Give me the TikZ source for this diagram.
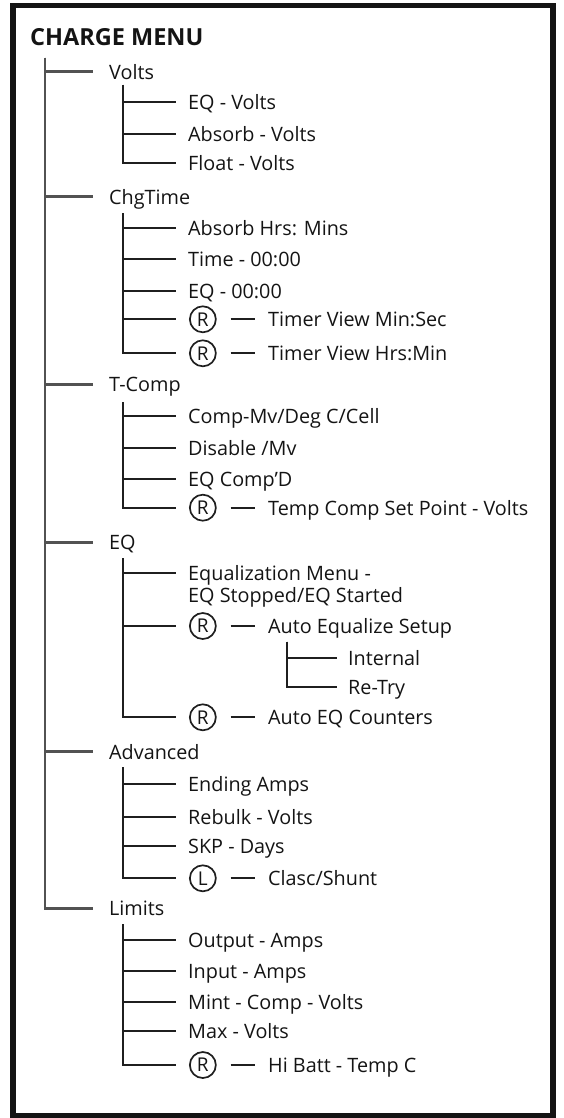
\documentclass[tikz,border=0pt]{standalone}
\usepackage{fontspec}
\setmainfont{Open Sans}
\begin{document}
\begin{tikzpicture}[x=1pt,y=-1pt,
  frame/.style={line width=5.5pt, draw=black!92},
  lvA/.style={line width=2.6pt, draw=black!68},
  lvB/.style={line width=2pt, draw=black!88},
  txt/.style={anchor=west, inner sep=0pt, text height=15pt, text depth=0pt,
              font=\fontsize{19.8}{21}\selectfont, text=black!92},
  ttl/.style={anchor=base west, inner sep=0pt,
              font=\bfseries\fontsize{23.5}{26}\selectfont, text=black!92},
  rc/.style={circle, draw=black!88, line width=1.7pt, minimum size=26pt,
             inner sep=0pt, font=\fontsize{19}{19}\selectfont, text=black!92, anchor=west},
  gA/.style={lvA, shorten >=16pt},
  gB/.style={lvB, shorten >=12pt},
  gR/.style={lvB, shorten >=13pt},
  dsh/.style={lvB, shorten <=14pt, shorten >=13pt}
]
\useasboundingbox (0,0) rectangle (563,1118);
\draw[frame] (13,5.5) rectangle (553,1115.5);

\node[ttl] (title) at (30,45.7) {CHARGE MENU};

% level 1
\coordinate (vA) at (45,58);
\node[txt] (volts) at (109,71.7) {Volts};
\node[txt] (chg) at (109,196.7) {ChgTime};
\node[txt] (tcomp) at (109,384.3) {T-Comp};
\node[txt] (eq) at (109,542.3) {EQ};
\node[txt] (adv) at (109,751.7) {Advanced};
\node[txt] (lim) at (109,908.3) {Limits};
\foreach \n in {volts,chg,tcomp,eq,adv,lim}
  \draw[gA] (vA) |- (\n.west);

% Volts
\coordinate (vV) at (123,85);
\node[txt] (v1) at (188,101.7) {EQ - Volts};
\node[txt] (v2) at (188,134) {Absorb - Volts};
\node[txt] (v3) at (188,163.3) {Float - Volts};
\foreach \n in {v1,v2,v3} \draw[gB] (vV) |- (\n.west);

% ChgTime
\coordinate (vC) at (123,213);
\node[txt] (c1) at (188,228.3) {Absorb Hrs: Mins};
\node[txt] (c2) at (188,259.3) {Time - 00:00};
\node[txt] (c3) at (188,290.7) {EQ - 00:00};
\node[rc] (c4r) at (189,319.3) {R};
\node[txt] (c4) at (268,319.3) {Timer View Min:Sec};
\node[rc] (c5r) at (189,353.3) {R};
\node[txt] (c5) at (268,353.3) {Timer View Hrs:Min};
\foreach \n in {c1,c2,c3} \draw[gB] (vC) |- (\n.west);
\foreach \n in {c4r,c5r} \draw[gR] (vC) |- (\n.west);
\draw[dsh] (c4r.east) -- (c4.west);
\draw[dsh] (c5r.east) -- (c5.west);

% T-Comp
\coordinate (vT) at (123,402);
\node[txt] (t1) at (188,416) {Comp-Mv/Deg C/Cell};
\node[txt] (t2) at (188,447.7) {Disable /Mv};
\node[txt] (t3) at (188,479) {EQ Comp'D};
\node[rc] (t4r) at (189,507.7) {R};
\node[txt] (t4) at (268,507.7) {Temp Comp Set Point - Volts};
\foreach \n in {t1,t2,t3} \draw[gB] (vT) |- (\n.west);
\draw[gR] (vT) |- (t4r.west);
\draw[dsh] (t4r.east) -- (t4.west);

% EQ
\coordinate (vE) at (123,558);
\node[txt] (e1) at (188,573.3) {\begin{tabular}[t]{@{}l@{}}Equalization Menu -\\EQ Stopped/EQ Started\end{tabular}};
\node[rc] (e2r) at (189,626) {R};
\node[txt] (e2) at (268,626) {Auto Equalize Setup};
\node[rc] (e3r) at (189,717.3) {R};
\node[txt] (e3) at (268,717.3) {Auto EQ Counters};
\draw[gB] (vE) |- (e1.west);
\foreach \n in {e2r,e3r} \draw[gR] (vE) |- (\n.west);
\draw[dsh] (e2r.east) -- (e2.west);
\draw[dsh] (e3r.east) -- (e3.west);
\coordinate (vS) at (287,641.7);
\node[txt] (s1) at (348,658.3) {Internal};
\node[txt] (s2) at (348,687.3) {Re-Try};
\foreach \n in {s1,s2} \draw[lvB, shorten >=11pt] (vS) |- (\n.west);

% Advanced
\coordinate (vD) at (123,767);
\node[txt] (d1) at (188,784) {Ending Amps};
\node[txt] (d2) at (188,816.7) {Rebulk - Volts};
\node[txt] (d3) at (188,846) {SKP - Days};
\node[rc] (d4r) at (189,878.3) {L};
\node[txt] (d4) at (268,878.3) {Clasc/Shunt};
\foreach \n in {d1,d2,d3} \draw[gB] (vD) |- (\n.west);
\draw[gR] (vD) |- (d4r.west);
\draw[dsh] (d4r.east) -- (d4.west);

% Limits
\coordinate (vL) at (123,924);
\node[txt] (l1) at (188,940) {Output - Amps};
\node[txt] (l2) at (188,970.7) {Input - Amps};
\node[txt] (l3) at (188,1001.7) {Mint - Comp - Volts};
\node[txt] (l4) at (188,1031) {Max - Volts};
\node[rc] (l5r) at (189,1065) {R};
\node[txt] (l5) at (268,1065) {Hi Batt - Temp C};
\foreach \n in {l1,l2,l3,l4} \draw[gB] (vL) |- (\n.west);
\draw[gR] (vL) |- (l5r.west);
\draw[dsh] (l5r.east) -- (l5.west);
\end{tikzpicture}
\end{document}
